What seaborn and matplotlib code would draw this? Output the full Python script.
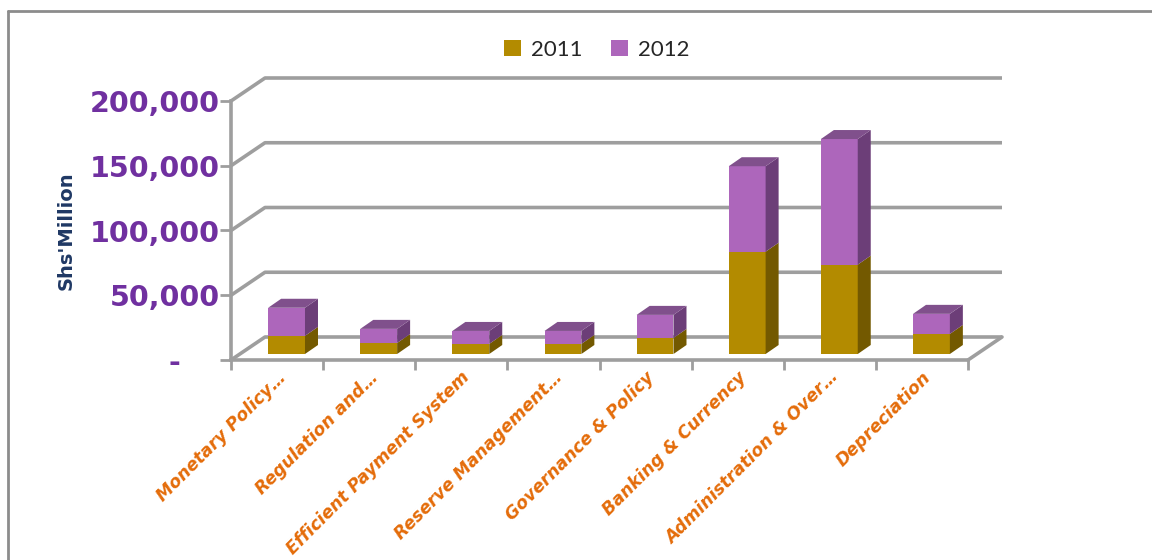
import numpy as np
import pandas as pd
import seaborn as sns
import matplotlib
matplotlib.use("Agg")
import matplotlib.pyplot as plt
from matplotlib.patches import Polygon, Patch
from matplotlib.lines import Line2D
from matplotlib.transforms import ScaledTranslation

# ---- data ----
categories = ["Monetary Policy\u2026", "Regulation and\u2026", "Efficient Payment System",
              "Reserve Management\u2026", "Governance & Policy", "Banking & Currency",
              "Administration & Over\u2026", "Depreciation"]
values_2011 = [14000, 8500, 7800, 7800, 12400, 79000, 69000, 15500]
values_2012 = [21700, 10900, 10000, 10000, 17800, 66000, 97000, 15500]
series_labels = ["2011", "2012"]
y_ticks = [0, 50000, 100000, 150000, 200000]

# ---- style ----
sns.set_theme(style="white")
plt.rcParams["font.family"] = ["DejaVu Sans"]

C11 = "#B38B00"; C11_SIDE = "#735900"
C12 = "#AD66BB"; C12_SIDE = "#6C3E78"; C12_TOP = "#80508C"
GRID = "#9E9E9E"

W, H, DPI = 11.52, 5.6, 100
fig = plt.figure(figsize=(W, H), dpi=DPI)
fig.patch.set_facecolor("white")

# front frame in pixels
x0p, x1p, y0p, y1p = 231, 968, 360, 101
ax = fig.add_axes([x0p / 1152, 1 - y0p / 560, (x1p - x0p) / 1152, (y0p - y1p) / 560])
ax.set_facecolor("none")

df = pd.DataFrame({"cat": categories, "v11": values_2011, "v12": values_2012})
df["total"] = df["v11"] + df["v12"]

BW = 0.40
sns.barplot(data=df, x="cat", y="total", color=C12, saturation=1, width=BW, ax=ax, zorder=3)
sns.barplot(data=df, x="cat", y="v11", color=C11, saturation=1, width=BW, ax=ax, zorder=4)

ax.set_xlim(-0.5, len(categories) - 0.5)
ax.set_ylim(0, 200000)

# pixel -> data conversions
px_x = (len(categories)) / (x1p - x0p)
px_y = 200000 / (y0p - y1p)

# bars sit slightly behind the front plane
bar_off = ax.transData + ScaledTranslation(9.5 / DPI, 6 / DPI, fig.dpi_scale_trans)
for p in ax.patches:
    p.set_transform(bar_off)
    p.set_edgecolor("none")

# depth of the bar boxes
ddx, ddy = 13 * px_x, 9 * px_y
for i, (a, b) in enumerate(zip(values_2011, df["total"])):
    xr = i + BW / 2
    xl = i - BW / 2
    for lo, hi, col in [(0, a, C11_SIDE), (a, b, C12_SIDE)]:
        ax.add_patch(Polygon([(xr, lo), (xr, hi), (xr + ddx, hi + ddy), (xr + ddx, lo + ddy)],
                             closed=True, facecolor=col, edgecolor="none",
                             transform=bar_off, zorder=5))
    ax.add_patch(Polygon([(xl, b), (xr, b), (xr + ddx, b + ddy), (xl + ddx, b + ddy)],
                         closed=True, facecolor=C12_TOP, edgecolor="none",
                         transform=bar_off, zorder=5))

# back wall gridlines (3D look)
wdx, wdy = 34 * px_x, 23 * px_y
xl_ax, xr_ax = -0.5, len(categories) - 0.5
for v in y_ticks:
    ax.plot([xl_ax, xl_ax + wdx, xr_ax + wdx], [v, v + wdy, v + wdy],
            color=GRID, lw=2.6, clip_on=False, zorder=1, solid_capstyle="butt")
ax.plot([xr_ax, xr_ax + wdx], [0, wdy], color=GRID, lw=2.6, clip_on=False, zorder=1)

# spines
for s in ["top", "right"]:
    ax.spines[s].set_visible(False)
for s in ["left", "bottom"]:
    ax.spines[s].set_color(GRID)
    ax.spines[s].set_linewidth(2.6)
    ax.spines[s].set_zorder(2)

# y ticks
ax.set_yticks(y_ticks)
ax.set_yticklabels([("{:,}".format(v) if v else "-    ") for v in y_ticks])
ax.tick_params(axis="y", left=True, length=8, width=2, color=GRID, pad=0,
               labelsize=20.5, labelcolor="#7030A0")
for lab in ax.get_yticklabels():
    lab.set_fontweight("bold")

# x ticks at category boundaries
ax.set_xticks(np.arange(len(categories)))
ax.set_xticks(np.arange(len(categories) + 1) - 0.5, minor=True)
ax.tick_params(axis="x", which="major", length=0, pad=6)
ax.tick_params(axis="x", which="minor", bottom=True, length=7, width=2, color=GRID)
ax.set_xticklabels(categories, rotation=45, ha="right", va="center", rotation_mode="anchor",
                   fontsize=12.5, color="#E46C0A", fontweight="bold", fontstyle="oblique")
for lab in ax.get_xticklabels():
    lab.set_transform(lab.get_transform() + ScaledTranslation(6 / DPI, -6 / DPI, fig.dpi_scale_trans))

ax.set_xlabel("")
ax.set_ylabel("Shs'Million", fontsize=14, fontweight="bold", color="#1F3864")
ax.yaxis.set_label_coords((76 - x0p) / (x1p - x0p), (y0p - 231) / (y0p - y1p))

# legend
handles = [Patch(facecolor=C11, edgecolor="none"), Patch(facecolor=C12, edgecolor="none")]
fig.legend(handles, series_labels, loc="center", bbox_to_anchor=(597 / 1152, 1 - 50 / 560),
           ncol=2, frameon=False, handlelength=0.75, handleheight=0.75,
           handletextpad=0.45, columnspacing=1.3,
           prop={"family": "Lato", "size": 16})

# outer chart border (left + top)
fig.add_artist(Line2D([8 / 1152, 8 / 1152], [0, 1 - 11 / 560], transform=fig.transFigure,
                      color="#8C8C8C", lw=2))
fig.add_artist(Line2D([8 / 1152, 1], [1 - 11 / 560, 1 - 11 / 560], transform=fig.transFigure,
                      color="#8C8C8C", lw=2))

fig.savefig("out.png", dpi=DPI, facecolor="white")
